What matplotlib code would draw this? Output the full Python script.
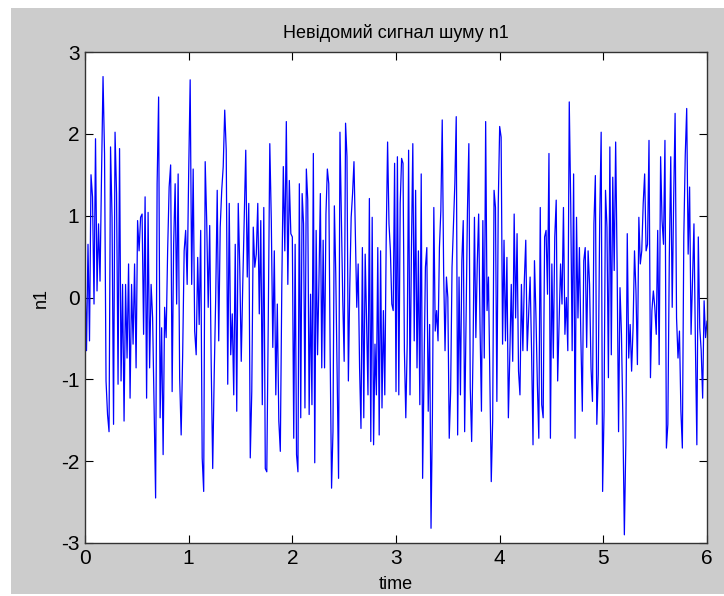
import numpy as np
import matplotlib
matplotlib.use('Agg')
import matplotlib.pyplot as plt
from matplotlib.patches import Rectangle

TITLE = 'Невідомий сигнал шуму n1'
X_LABEL = 'time'
Y_LABEL = 'n1'
X_TICKS = [0, 1, 2, 3, 4, 5, 6]
Y_TICKS = [-3, -2, -1, 0, 1, 2, 3]

n1_part1 = [0.3, -0.65, 0.65, -0.53, 1.5, 1.23, -0.08, 1.94, 0.08, 0.9, 0.2, 1.5, 2.7, 1.76,
            -1.02, -1.43, -1.64, 1.84, 0.98, -1.55, 2.02, 1.27, -1.06, 1.82, -1.02, 0.16, -1.51,
            0.16, -0.74, 0.41, -1.23, 0.16, -0.57, 0.41, -0.86, 0.94, 0.57, 0.98, 1.02, -0.45,
            1.23, -1.23, 1.04, -0.86, 0.16, -0.25, -1.39, -2.45, 1.39, 2.45, -1.47, -0.37, -1.92,
            -0.12, -0.49, 0.57, 1.35, 1.62, -1.15, 0.65, 1.39, -0.08, 1.51, -0.98, -1.68, -0.7,
            0.57, 0.82, 0.16, 1.51, 2.66, 0.16, 1.57, -0.41, -0.7, 0.49, -0.33, 0.82, -1.96,
            -2.37, 1.66, 0.94, -0.12, 0.88, -0.82, -2.09, -0.94, 0.0, 1.31, -0.53, 0.86, 1.31,
            1.6, 2.29, 1.8, -1.06, 1.15, -0.7, -0.2, -1.19, 0.65, -1.39, 1.15, 0.37, -0.78, 0.16,
            0.98, 1.8, 0.25, 1.15, -1.96, -1.15, 0.86, 0.37, 0.53, 1.15, -0.2, 0.94, -1.31, 1.1,
            -2.09, -2.13, -0.25, 1.88, 0.94, -0.61, 0.57, -1.19, -0.08, -1.51, -1.88, 0.16, 1.6,
            0.57, 2.15, 0.16, 1.43, 0.78]
n1_part2 = [0.74, -1.72, 0.65, -1.92, -2.13, 1.39, -1.47, 1.27, 0.9, -1.35, 1.57, 1.19, -1.43,
            0.04, -1.31, 1.76, -2.02, 0.82, -0.7, 0.2, 1.27, -0.86, 0.7, -0.86, 1.02, 1.57, 1.39,
            -0.7, -2.33, -1.64, 1.12, 0.29, -0.98, -2.21, 2.02, 0.98, -0.04, -0.78, 2.13, 1.72,
            -1.02, 0.12, 0.98, 1.27, 1.66, 0.78, -0.12, 0.41, -0.86, -1.6, 0.61, -1.47, 0.53,
            -0.29, -1.19, 1.21, -1.76, 0.98, -1.8, -0.57, -1.19, 0.61, -1.68, 0.57, -1.35, -0.16,
            -1.19, 0.7, 1.9, 0.9, 0.57, -0.08, -0.16, 1.64, -1.15, 1.72, -1.19, 1.15, 1.7, 1.64,
            -0.65, -1.47, -0.57, 1.8, -1.19, 0.57, 1.88, -0.53, 1.31, -0.86, 0.57, -1.31, 1.51,
            -2.21, -0.9, 0.37, 0.61, -1.39, -0.33, -2.82, -1.43, 1.1, -0.41, -0.16, -0.53, 0.61,
            1.06, 2.17, 0.33, -0.65, 0.25, 0.0, -1.72, -1.15, 0.37, 0.9, 1.39, 2.21, -1.68, 0.25,
            -1.19, 0.45, 0.94, -1.64, -0.25, 1.06, 1.88, -1.1, -1.76, -0.65, 0.98, -0.49, 0.41,
            1.02, -0.37, -1.39, 0.94, -0.74, 2.15, -0.16, 0.25, -0.98, -2.25, -1.51, 1.31, 1.1,
            -1.27, 1.15]
n1_part3 = [2.09, 1.96, -0.57, 0.7, -0.53, 0.49, -1.47, -0.7, 0.16, -0.78, 1.02, -0.25, 0.78,
            -0.9, -1.19, 0.16, -0.65, 0.2, 0.7, -0.65, -0.2, 0.25, -0.65, -1.8, 0.45, -0.2, -1.06,
            -1.72, 1.1, -1.31, -1.47, 0.74, 0.82, 0.04, 1.76, -1.72, 0.41, -0.74, 0.74, 1.19,
            -1.02, -0.33, 0.41, -0.08, 1.1, -0.45, 0.0, -0.65, 2.39, 1.15, -0.65, 1.51, -1.72,
            0.98, -0.25, 0.61, -0.49, -1.39, 0.45, 0.61, -0.61, 0.57, 0.16, -0.86, -1.27, 0.9,
            1.49, -1.55, -0.94, 0.94, 2.02, -2.37, -1.39, 1.31, 0.86, -0.98, 1.84, -0.7, 1.47,
            0.33, 1.9, 0.41, -1.64, 0.12, -0.45, -1.51, -2.9, -1.8, 0.78, -0.74, -0.33, -0.9,
            -0.37, 0.57, 0.08, -0.82, 0.98, 0.41, 0.57, 1.15, 1.51, 0.57, 0.65, 1.92, -0.98,
            -0.16, 0.08, -0.12, -0.45, 0.82, -0.82, 1.72, 0.94, 0.65, 1.92, -1.84, -1.55, 0.49,
            1.72, -0.12, 1.19, 2.25, -0.25, -0.74, -0.41, -1.39, -1.84, 0.74, 1.74, 2.31, 0.53,
            1.35, -0.45, 0.2, 0.9, -0.57, -1.8, 0.74, -0.37, -0.65, -1.23, -0.04, -0.49, -0.29]

# время: каждый участок равномерно на своём отрезке
t = np.concatenate([np.linspace(0, 2, len(n1_part1), endpoint=False),
                    np.linspace(2, 4, len(n1_part2), endpoint=False),
                    np.linspace(4, 6, len(n1_part3))])
n1 = np.array(n1_part1 + n1_part2 + n1_part3)

plt.rcParams['font.family'] = ['Liberation Sans', 'DejaVu Sans']
plt.rcParams['axes.unicode_minus'] = False

fig = plt.figure(figsize=(7.24, 5.96), dpi=100, facecolor='white')
# серый фон как в окне MATLAB
fig.patches.append(Rectangle((11 / 724, 2 / 596), 713 / 724, 586 / 596,
                             transform=fig.transFigure, facecolor='#cccccc',
                             edgecolor='none', zorder=-1))

ax = fig.add_axes([85 / 724, 53 / 596, 622 / 724, 491 / 596])
ax.plot(t, n1, color='#0000ff', linewidth=0.9)

ax.set_xlim(0, 6)
ax.set_ylim(-3, 3)
ax.set_xticks(X_TICKS)
ax.set_yticks(Y_TICKS)
ax.tick_params(direction='in', top=True, right=True, length=6, width=0.8,
               labelsize=15, pad=4)
for s in ax.spines.values():
    s.set_linewidth(1.0)
    s.set_color('#333333')

ax.set_title(TITLE, fontsize=13, pad=10)
ax.set_xlabel(X_LABEL, fontsize=13, labelpad=6)
ax.set_ylabel(Y_LABEL, fontsize=13, labelpad=8)

fig.savefig('out.png', dpi=100, facecolor=fig.get_facecolor())
